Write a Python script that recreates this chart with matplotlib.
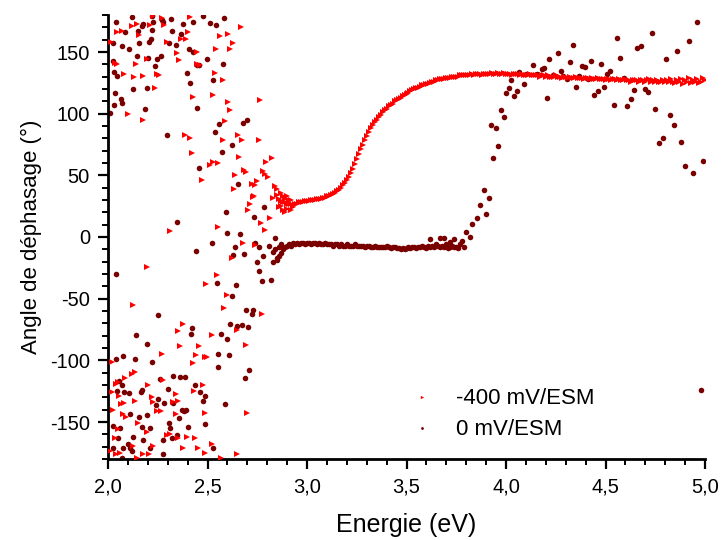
#!/usr/bin/env python3
import numpy as np
import matplotlib
matplotlib.use("Agg")
import matplotlib.pyplot as plt
from matplotlib.ticker import FuncFormatter, MultipleLocator

# -400 mV/ESM : scattered points at low energy (eV, degrees)
red_scatter_e = [
    2.225, 2.270, 2.412, 2.144, 2.122, 2.044, 2.069, 2.158, 2.211, 2.283,
    2.404, 2.365, 2.392, 2.563, 2.605, 2.667, 2.015, 2.295, 2.446, 2.349,
    2.355, 2.543, 2.627, 2.613, 2.035, 2.047, 2.141, 2.194, 2.449, 2.463,
    2.081, 2.133, 2.178, 2.248, 2.258, 2.236, 2.538, 2.580, 2.426, 2.526,
    2.605, 2.613, 2.764, 2.102, 2.178, 2.588, 2.387, 2.412, 2.580, 2.655,
    2.672, 2.757, 2.421, 2.660, 2.513, 2.530, 2.555, 2.794, 2.824, 2.471,
    2.638, 2.684, 2.694, 2.781, 2.789, 2.806, 2.633, 2.722, 2.739, 2.747,
    2.734, 2.831, 2.839, 2.848,
    2.731, 2.714, 2.705, 2.814, 2.767, 2.789, 2.312, 2.551, 2.677, 2.739,
    2.622, 2.195, 2.546, 2.493, 2.597, 2.128, 2.583, 2.772, 2.379, 2.354,
    2.647, 2.521, 2.362, 2.457, 2.692, 2.270, 2.442, 2.488, 2.499, 2.426,
    2.019, 2.136, 2.119, 2.086, 2.052, 2.040, 2.019, 2.275, 2.203, 2.432,
    2.476, 2.342, 2.220, 2.228, 2.325, 2.354, 2.057, 2.081, 2.064, 2.136,
    2.027, 2.074, 2.091, 2.245, 2.265, 2.342, 2.488, 2.697, 2.153, 2.195,
    2.052, 2.035, 2.295, 2.312, 2.354, 2.399, 2.437, 2.521, 2.128, 2.228,
    2.010, 2.040, 2.060, 2.174, 2.208, 2.379, 2.454, 2.488, 2.144, 2.566,
    2.650,
    2.85, 2.87, 2.88, 2.89, 2.90, 2.91, 2.92, 2.88, 2.90, 2.92, 2.93, 2.87,
    2.86, 2.89,
]
red_scatter_a = [
    179.4, 177.5, 178.6, 172.6, 170.7, 165.9, 166.7, 163.7, 171.8, 171.8,
    165.9, 160.4, 160.4, 163.1, 164.5, 170.5, 158.3, 158.3, 150.4, 149.0,
    143.6, 152.8, 157.7, 152.8, 141.4, 140.6, 140.1, 144.7, 140.1, 139.3,
    131.9, 130.0, 130.6, 131.9, 131.1, 121.1, 132.7, 127.3, 113.7, 114.8,
    109.4, 102.6, 110.8, 99.4, 94.8, 94.0, 82.3, 80.6, 78.7, 82.3,
    79.0, 79.0, 68.2, 64.9, 58.1, 60.8, 60.0, 60.8, 63.8, 45.9,
    50.5, 54.0, 52.4, 53.8, 51.1, 48.3, 38.8, 42.9, 42.4, 45.1,
    32.9, 31.5, 41.6, 38.8,
    32.8, 26.9, 22.0, 15.2, 11.1, 5.7, 5.2, 8.4, -5.2, -6.5,
    -17.4, -24.2, -31.0, -38.3, -47.2, -54.8, -57.3, -62.2, -70.3, -76.3,
    -75.7, -79.3, -88.5, -88.5, -87.4, -94.7, -95.3, -96.9, -97.4, -102.3,
    -101.5, -109.7, -111.0, -114.3, -117.8, -119.2, -126.0, -115.9, -119.7, -125.1,
    -119.7, -127.3, -130.0, -134.1, -134.1, -132.7, -128.7, -134.9, -135.4, -132.7,
    -140.3, -143.6, -146.3, -140.9, -140.9, -143.6, -143.0, -143.0, -151.2, -158.5,
    -155.8, -162.6, -160.4, -159.9, -162.6, -162.0, -162.6, -168.0, -169.4, -169.4,
    -173.4, -175.6, -174.8, -175.6, -176.2, -170.7, -170.7, -174.8, -178.9, -179.4,
    -176.2,
    34, 36, 33, 31, 33, 30, 30, 22, 23, 22, 24, 25,
    24, 20,
]

# -400 mV/ESM : dense curve, one point every 0.01 eV from 2.86 to 5.00 eV
red_curve_e = np.round(np.arange(286, 501) / 100.0, 2)
red_curve_a = [
    31, 29, 28, 28, 27, 27, 27, 26, 27, 27,
    28, 28, 28, 29, 29, 29, 30, 30, 30, 31,
    31, 31, 32, 32, 33, 33, 34, 35, 36, 37,
    38, 40, 42, 44, 46, 49, 52, 55, 59, 63,
    67, 71, 75, 79, 82, 85, 88, 91, 93, 95,
    97, 99, 101, 103, 104, 106, 107, 108, 110, 111,
    112, 113, 114, 115, 116, 117, 118, 119, 120, 121,
    121, 122, 123, 123, 124, 124, 125, 126, 126, 127,
    127, 128, 128, 128, 129, 129, 129, 130, 130, 130,
    130, 131, 131, 131, 131, 131, 131, 132, 131, 132,
    132, 132, 131, 132, 132, 132, 132, 133, 132, 132,
    133, 132, 132, 133, 132, 132, 132, 131, 132, 132,
    132, 131, 132, 131, 131, 131, 132, 131, 131, 131,
    131, 130, 131, 131, 130, 131, 130, 130, 130, 131,
    130, 130, 129, 130, 130, 129, 130, 129, 129, 130,
    129, 129, 129, 128, 129, 129, 128, 129, 128, 128,
    129, 128, 128, 128, 127, 128, 128, 127, 128, 128,
    127, 128, 127, 127, 128, 127, 127, 126, 127, 127,
    127, 126, 127, 127, 126, 127, 128, 126, 127, 126,
    127, 126, 126, 127, 126, 127, 126, 128, 126, 125,
    127, 126, 128, 124, 127, 126, 129, 125, 127, 126,
    128, 125, 126, 129, 127,
]

# 0 mV/ESM : scattered points (low energy noise + high energy rise)
dark_scatter_e = [
    2.040, 2.119, 2.220, 2.270, 2.315, 2.178, 2.228, 2.278, 2.379, 2.429,
    2.476, 2.513, 2.543, 2.583, 2.086, 2.153, 2.169, 2.223, 2.323, 2.367,
    2.024, 2.069, 2.107, 2.158, 2.208, 2.215, 2.308, 2.342, 2.409, 2.429,
    2.027, 2.148, 2.203, 2.245, 2.265, 2.236, 2.446, 2.459, 2.499, 2.576,
    2.030, 2.047, 2.399, 2.412, 2.526, 2.124, 2.198, 2.035, 2.064, 2.069,
    2.030, 2.184, 2.449, 2.010, 2.560, 2.677, 2.697, 2.536, 2.298, 2.622,
    2.571, 2.459, 2.652,
    2.784, 2.734, 2.593, 2.345, 2.597, 2.664, 2.521, 2.638, 2.684, 2.630,
    2.442, 2.739, 2.761, 2.839, 2.811, 2.831, 2.777, 2.848, 2.747, 2.761,
    2.772, 2.818, 2.040, 2.546, 2.642, 2.625, 2.694, 2.731, 2.724, 2.253,
    2.613, 2.650, 2.672, 2.705, 2.421, 2.417, 2.566, 2.139, 2.600, 2.195,
    2.555, 2.610, 2.551, 2.710, 2.689, 2.220, 2.040, 2.074, 2.136, 2.588,
    2.328, 2.362, 2.387, 2.262, 2.057, 2.069, 2.047, 2.081, 2.107, 2.169,
    2.164, 2.303, 2.437, 2.462, 2.488, 2.479, 2.253, 2.241, 2.282, 2.328,
    2.370, 2.382, 2.392, 2.359, 2.195, 2.158, 2.111, 2.024, 2.060, 2.052,
    2.169, 2.211, 2.308, 2.312, 2.404, 2.345, 2.488, 2.128, 2.102, 2.111,
    2.119, 2.077, 2.178, 2.211, 2.275, 2.320, 2.027, 2.069, 2.278, 2.530,
    2.83, 2.85, 2.86, 2.87, 2.84, 2.86, 2.87,
    3.62, 3.67, 3.69, 3.72, 3.74, 3.78, 3.80, 3.82, 3.77, 3.79,
    3.827, 3.853, 3.870, 3.890, 3.913, 3.900, 3.936, 3.960, 3.925, 3.950,
    3.975, 3.988, 4.000, 4.013, 4.040, 4.054, 4.027, 4.067, 4.090, 4.134,
    4.100, 4.154, 4.180, 4.190, 4.204, 4.218, 4.238, 4.263, 4.275, 4.288,
    4.308, 4.320, 4.335, 4.352, 4.368, 4.380, 4.397, 4.414, 4.427, 4.444,
    4.460, 4.475, 4.490, 4.510, 4.525, 4.543, 4.560, 4.573, 4.593, 4.610,
    4.627, 4.645, 4.660, 4.678, 4.698, 4.715, 4.732, 4.749, 4.770, 4.787,
    4.804, 4.824, 4.843, 4.861, 4.881, 4.900, 4.920, 4.938, 4.958, 4.990,
    4.978,
]
dark_scatter_a = [
    174.5, 178.6, 178.9, 176.2, 176.7, 172.6, 174.5, 174.0, 172.6, 174.5,
    179.0, 173.5, 172.1, 177.5, 166.4, 167.2, 171.3, 168.0, 167.2, 164.5,
    157.7, 154.5, 152.8, 157.2, 158.3, 160.4, 157.2, 155.5, 152.3, 150.4,
    142.8, 146.9, 145.0, 144.1, 146.9, 138.7, 139.5, 139.5, 144.1, 140.1,
    133.8, 130.6, 133.3, 125.2, 127.3, 119.7, 121.1, 117.0, 111.6, 108.9,
    106.7, 104.0, 104.3, 100.7, 92.0, 92.6, 94.8, 85.0, 82.3, 74.4,
    69.2, 55.9, 43.2,
    24.7, 16.5, 20.1, 12.5, 3.0, 2.2, -4.6, -7.9, -13.9, -14.7,
    -11.1, -5.2, -7.9, -1.1, -7.3, -11.9, -15.5, -18.7, -20.1, -27.4,
    -35.6, -34.5, -30.1, -37.2, -39.1, -48.0, -59.4, -59.4, -62.7, -63.5,
    -70.8, -71.9, -71.1, -73.0, -73.6, -78.4, -79.0, -79.3, -82.5, -87.1,
    -94.7, -95.5, -105.0, -107.8, -114.3, -101.0, -99.3, -96.1, -98.8, -135.4,
    -112.4, -113.2, -113.2, -115.1, -116.4, -119.7, -125.1, -125.9, -126.5, -124.0,
    -125.4, -123.2, -120.0, -125.9, -128.7, -132.7, -131.4, -136.0, -134.9, -134.9,
    -140.3, -141.4, -140.3, -146.8, -144.1, -145.8, -143.6, -153.1, -155.0, -162.6,
    -153.9, -155.0, -151.2, -155.0, -154.4, -160.4, -151.7, -162.0, -168.0, -170.7,
    -173.4, -170.7, -164.8, -170.7, -164.8, -162.6, -170.7, -178.9, -176.2, -170.7,
    -20, -17, -15, -13, -10, -8, -6,
    -2, -1, -1, -4, -2, -3, 4, 0, -6, -8,
    10.6, 15.7, 26.0, 38.0, 32.0, 18.7, 64.0, 74.0, 90.6, 88.7,
    103.0, 97.0, 116.4, 120.5, 114.0, 118.0, 127.0, 133.8, 123.8, 139.8,
    132.0, 132.0, 136.5, 137.0, 113.0, 144.7, 131.0, 148.8, 134.6, 130.5,
    127.8, 142.0, 155.8, 121.9, 130.5, 139.0, 137.9, 128.4, 142.8, 115.0,
    118.3, 140.6, 121.9, 132.0, 135.0, 106.7, 161.0, 145.5, 129.0, 106.4,
    111.8, 119.4, 153.6, 155.0, 119.7, 117.8, 165.3, 103.4, 76.3, 80.4,
    144.7, 99.3, 91.2, 150.9, 76.8, 57.8, 159.3, 51.9, 174.0, 61.9,
    -124.0,
]

# 0 mV/ESM : flat plateau, one point every 0.01 eV from 2.88 to 3.76 eV
dark_curve_e = np.round(np.arange(288, 377) / 100.0, 2)
dark_curve_a = [
    -10, -8, -7, -6, -7, -5, -6, -5, -6, -5,
    -5, -6, -5, -5, -6, -5, -5, -6, -5, -6,
    -6, -5, -6, -6, -6, -7, -6, -6, -7, -6,
    -7, -7, -6, -7, -7, -7, -6, -7, -7, -7,
    -7, -8, -7, -7, -8, -8, -7, -8, -8, -8,
    -8, -8, -7, -8, -9, -8, -8, -9, -9, -10,
    -9, -10, -9, -8, -9, -8, -8, -9, -8, -8,
    -7, -8, -9, -7, -8, -7, -8, -6, -7, -8,
    -7, -8, -6, -9, -8, -7, -8, -8, -9,
]

x_ticks = [2.0, 2.5, 3.0, 3.5, 4.0, 4.5, 5.0]
y_ticks = [-150, -100, -50, 0, 50, 100, 150]

RED = "#ff0000"
DARK = "#7a0000"


def main() -> None:
    plt.rcParams["font.family"] = ["Liberation Sans", "DejaVu Sans"]
    plt.rcParams["axes.unicode_minus"] = False

    fig = plt.figure(figsize=(7.22, 5.40), dpi=100)
    ax = fig.add_axes([108 / 722, 1 - 459 / 540, 597 / 722, 444 / 540])

    red_e = list(red_scatter_e) + list(red_curve_e)
    red_a = list(red_scatter_a) + list(red_curve_a)
    dark_e = list(dark_scatter_e) + list(dark_curve_e)
    dark_a = list(dark_scatter_a) + list(dark_curve_a)

    ax.plot(dark_e, dark_a, linestyle="none", marker="o", markersize=4.0,
            color=DARK, markeredgewidth=0, label="0 mV/ESM", zorder=2)
    ax.plot(red_e, red_a, linestyle="none", marker=">", markersize=4.8,
            color=RED, markeredgewidth=0, label="-400 mV/ESM", zorder=3)

    ax.set_xlim(2.0, 5.0)
    ax.set_ylim(-180, 180)
    ax.set_xticks(x_ticks)
    ax.set_yticks(y_ticks)
    ax.xaxis.set_minor_locator(MultipleLocator(0.1))
    ax.yaxis.set_minor_locator(MultipleLocator(10))
    ax.xaxis.set_major_formatter(FuncFormatter(lambda v, p: f"{v:.1f}".replace(".", ",")))
    ax.yaxis.set_major_formatter(FuncFormatter(lambda v, p: f"{int(round(v))}"))

    for side in ("top", "right"):
        ax.spines[side].set_visible(False)
    for side in ("left", "bottom"):
        ax.spines[side].set_linewidth(2.0)
    ax.tick_params(which="major", direction="out", length=7, width=1.6, labelsize=14.5, pad=6)
    ax.tick_params(which="minor", direction="out", length=4, width=1.4)

    ax.set_xlabel("Energie (eV)", fontsize=18, labelpad=12)
    ax.set_ylabel("Angle de déphasage (°)", fontsize=16, labelpad=6)

    handles, labels = ax.get_legend_handles_labels()
    ax.legend(handles[::-1], labels[::-1], loc="lower left", bbox_to_anchor=(0.455, -0.003),
              frameon=False, fontsize=16, markerscale=0.5, handletextpad=0.55,
              labelspacing=0.45)

    fig.savefig("out.png", dpi=100)


if __name__ == "__main__":
    main()
